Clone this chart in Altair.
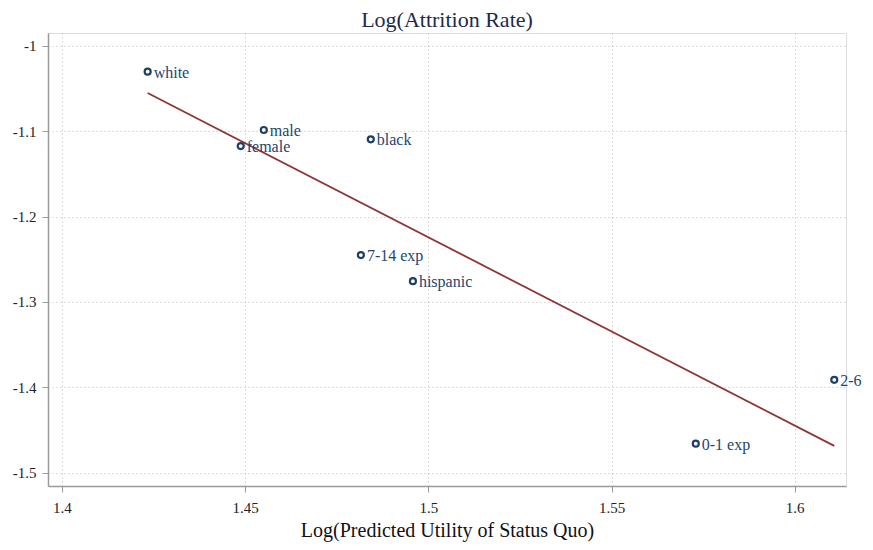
import altair as alt
import pandas as pd

labels = ["white", "male", "female", "black", "7-14 exp", "hispanic", "0-1 exp", "2-6"]
log_utility = [1.4234, 1.4551, 1.4488, 1.4843, 1.4816, 1.4958, 1.5730, 1.6108]
log_attrition = [-1.0301, -1.0985, -1.1173, -1.1094, -1.2451, -1.2756, -1.4661, -1.3913]
x_ticks = [1.4, 1.45, 1.5, 1.55, 1.6]
y_ticks = [-1.0, -1.1, -1.2, -1.3, -1.4, -1.5]

df = pd.DataFrame({"label": labels, "x": log_utility, "y": log_attrition})

FONT = "Liberation Serif"
xscale = alt.Scale(domain=[1.3962, 1.614], nice=False, zero=False)
yscale = alt.Scale(domain=[-1.5157, -0.9848], nice=False, zero=False)

xenc = alt.X("x:Q", scale=xscale, title="Log(Predicted Utility of Status Quo)",
             axis=alt.Axis(values=x_ticks, format="~g", grid=True, gridDash=[1, 3],
                           gridColor="#b8b8b8", domainColor="#9a9a9a", domainWidth=1.5,
                           tickColor="#9a9a9a", tickSize=6, labelFontSize=15,
                           labelColor="#222222", labelPadding=8, titleFontSize=20,
                           titleFontWeight="normal", titleColor="#111111",
                           titlePadding=5, labelFont=FONT, titleFont=FONT))
yenc = alt.Y("y:Q", scale=yscale, title=None,
             axis=alt.Axis(values=y_ticks, grid=True, gridDash=[1, 3],
                           labelExpr="replace(format(datum.value, '~g'), '\u2212', '-')",
                           gridColor="#b8b8b8", domainColor="#9a9a9a", domainWidth=1.5,
                           tickColor="#9a9a9a", tickSize=6, labelFontSize=15,
                           labelColor="#222222", labelPadding=6, labelFont=FONT))

base = alt.Chart(df)

line = base.transform_regression("x", "y").mark_line(
    color="#8e3535", strokeWidth=1.8
).encode(x=xenc, y=yenc)

points = base.mark_point(
    shape="circle", filled=False, size=36, strokeWidth=2.2, color="#1f3f66", opacity=1
).encode(x=xenc, y=yenc)

text = base.mark_text(
    align="left", baseline="middle", dx=6, dy=1, fontSize=16, font=FONT, color="#24456e"
).encode(x=xenc, y=yenc, text="label:N")

chart = alt.layer(line, points, text).properties(
    width=798,
    height=453,
    title=alt.TitleParams("Log(Attrition Rate)", font=FONT, fontSize=22,
                          fontWeight="normal", color="#1c2b4a", offset=1),
    autosize=alt.AutoSizeParams(type="none"),
    padding={"left": 40, "top": 25, "right": 19, "bottom": 56},
).configure_view(stroke=None).configure(background="white")

chart.save("out.html", embed_options={"renderer": "svg", "actions": False})
